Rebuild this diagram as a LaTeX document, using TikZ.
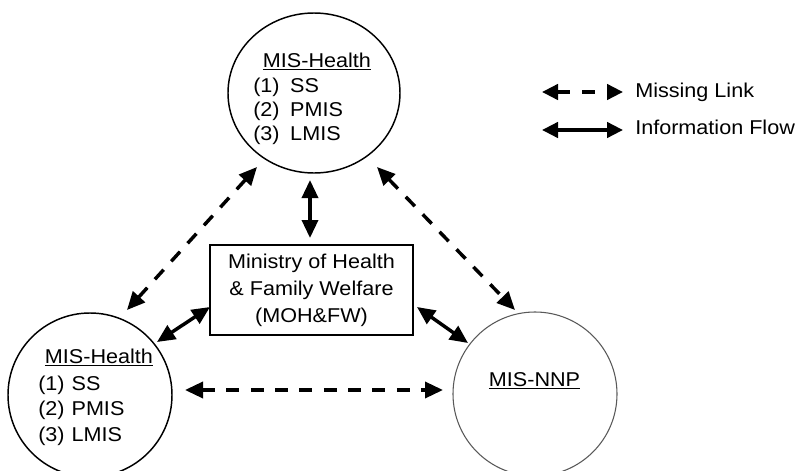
\documentclass[tikz,border=0pt]{standalone}
\usepackage{fontspec}
\setmainfont{Liberation Sans}[FakeStretch=1.08]
\usetikzlibrary{arrows.meta,shapes.geometric,calc}
\begin{document}
\begin{tikzpicture}[x=0.75pt,y=-0.75pt,
  every node/.style={font=\fontsize{15}{18}\selectfont},
  circ/.style={ellipse,draw,line width=1.1pt,inner sep=0pt},
  txt/.style={anchor=base west,inner sep=0pt},
  head/.style={anchor=base,inner sep=0pt},
  flow/.style={line width=2.6pt,{Triangle[length=13.5pt,width=12pt]}-{Triangle[length=13.5pt,width=12pt]}},
  missing/.style={flow,dash pattern=on 9.75pt off 8.5pt},
  legflow/.style={line width=2.6pt,{Triangle[length=12pt,width=11.5pt]}-{Triangle[length=12pt,width=11.5pt]}},
  legmissing/.style={legflow,dash pattern=on 9.75pt off 9pt}]
\path[use as bounding box] (0,0) rectangle (797,471);
% circles
\node[circ,minimum width=129pt,minimum height=120pt] (T) at (314,93) {};
\node[circ,minimum width=123pt,minimum height=123pt] (L) at (90,395) {};
\node[circ,draw=black!65,line width=0.8pt,minimum width=123pt,minimum height=123pt] (N) at (535,394) {};
% box
\node[draw,line width=1.1pt,minimum width=152.25pt,minimum height=67.5pt,align=center,inner sep=0pt,
      font=\fontsize{15}{20.25}\selectfont] (B) at (311.5,290)
      {Ministry of Health\\ \& Family Welfare\\ (MOH\&FW)};
% top circle text
\node[head] (Th) at (317,67) {\underline{MIS-Health}};
\node[txt] (T1) at (253,92) {\makebox[27.75pt][l]{(1)}SS};
\node[txt] (T2) at (253,116) {\makebox[27.75pt][l]{(2)}PMIS};
\node[txt] (T3) at (253,140) {\makebox[27.75pt][l]{(3)}LMIS};
% left circle text
\node[head] (Lh) at (99,363) {\underline{MIS-Health}};
\node[txt] (L1) at (38,390) {\makebox[25pt][l]{(1)}SS};
\node[txt] (L2) at (38,415) {\makebox[25pt][l]{(2)}PMIS};
\node[txt] (L3) at (38,441) {\makebox[25pt][l]{(3)}LMIS};
% NNP text
\node[head] (Nh) at (534.5,386) {\underline{MIS-NNP}};
% connectors
\draw[flow] ($(T.center)+(-4,87)$) -- ($(B.center)+(-1.5,-52)$);
\draw[missing] ($(T.center)+(-57,74)$) -- ($(L.center)+(37,-85)$);
\draw[missing] ($(T.center)+(63,74)$) -- ($(N.center)+(-20,-84)$);
\draw[flow] ($(B.center)+(-101.5,17)$) -- ($(L.center)+(67,-53)$);
\draw[flow] ($(B.center)+(105.5,17)$) -- ($(N.center)+(-67,-51)$);
\draw[missing] ($(L.center)+(95,-5)$) -- ($(N.center)+(-92,-4)$);
% legend
\coordinate (m1) at (542,92);
\coordinate (m2) at (623,92);
\coordinate (f1) at (542,130);
\coordinate (f2) at (623,130);
\draw[legmissing] (m1) -- (m2);
\draw[legflow] (f1) -- (f2);
\node[txt] (mt) at (635,97) {Missing Link};
\node[txt] (ft) at (635,134) {Information Flow};
\end{tikzpicture}
\end{document}
